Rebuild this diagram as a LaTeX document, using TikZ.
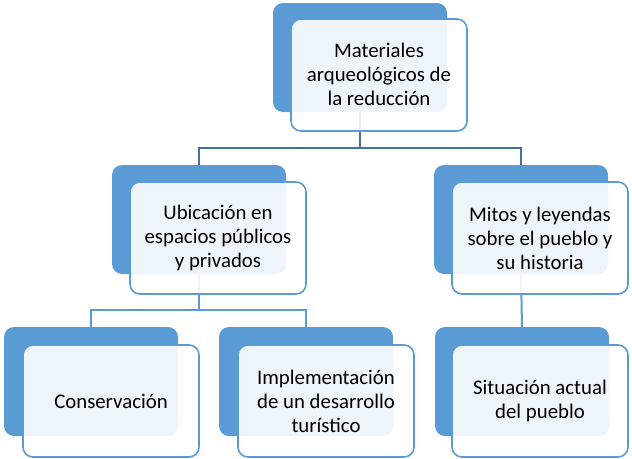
\documentclass[tikz,border=0pt]{standalone}
\usepackage{fontspec}
\setmainfont{Carlito}
\definecolor{boxblue}{HTML}{5B9BD5}
\definecolor{linedark}{HTML}{41719C}
\begin{document}
\begin{tikzpicture}[x=1pt,y=-1pt,
  backbox/.style={rounded corners=10pt, fill=boxblue, minimum width=174pt, minimum height=109pt, anchor=north west, inner sep=0pt, outer sep=0pt},
  frontbox/.style={rounded corners=10pt, draw=boxblue, line width=1.6pt, fill=white, fill opacity=0.9, text opacity=1, minimum width=176pt, minimum height=112pt, anchor=north west, inner sep=0pt, outer sep=0pt},
  lbl/.style={align=center, font=\fontsize{20.8}{24}\selectfont, text=black},
  conn/.style={line width=2pt}
]
\path[use as bounding box] (0,0) rectangle (632,458);

% back boxes
\node[backbox] (b1) at (273,3) {};
\node[backbox] (b2) at (112,165) {};
\node[backbox] (b3) at (434,165) {};
\node[backbox] (b4) at (4,327) {};
\node[backbox] (b5) at (219,327) {};
\node[backbox] (b6) at (435,327) {};

% connectors (behind front boxes)
\coordinate (h1) at (360,148);
\coordinate (h2) at (199,310);
\draw[conn, draw=linedark] (b1.south) -- (b1.south |- h1) -| (b2.north);
\draw[conn, draw=linedark] (b1.south |- h1) -| (b3.north);
\draw[conn, draw=boxblue] (b2.south) -- (b2.south |- h2) -| (b4.north);
\draw[conn, draw=boxblue] (b2.south |- h2) -| (b5.north);
\draw[conn, draw=boxblue] (b3.south) -- (b6.north);

% front boxes
\node[frontbox] (f1) at (291,19) {};
\node[frontbox] (f2) at (130,182) {};
\node[frontbox] (f3) at (452,182) {};
\node[frontbox] (f4) at (23,345) {};
\node[frontbox] (f5) at (238,345) {};
\node[frontbox] (f6) at (452,345) {};

% labels
\node[lbl] (t1) at ([yshift=1pt]f1.center) {Materiales\\arqueológicos de\\la reducción};
\node[lbl] (t2) at (f2.center) {Ubicación en\\espacios públicos\\y privados};
\node[lbl] (t3) at (f3.center) {Mitos y leyendas\\sobre el pueblo y\\su historia};
\node[lbl] (t4) at (f4.center) {Conservación};
\node[lbl] (t5) at (f5.center) {Implementación\\de un desarrollo\\turístico};
\node[lbl] (t6) at (f6.center) {Situación actual\\del pueblo};
\end{tikzpicture}
\end{document}
